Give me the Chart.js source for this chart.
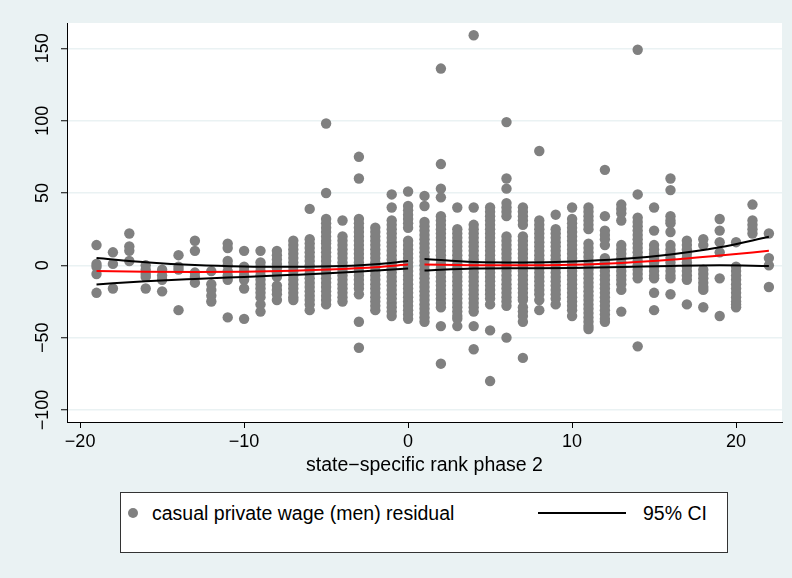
<!DOCTYPE html>
<html>
<head>
<meta charset="utf-8">
<script src="https://cdn.jsdelivr.net/npm/chart.js@4"></script>
<style>
  html, body { margin: 0; padding: 0; background: #EAF2F3; }
  #wrap { position: relative; width: 792px; height: 578px; overflow: hidden; }
  canvas { position: absolute; left: 0; top: 0; }
  #legend { position: absolute; left: 120px; top: 492px; width: 606px; height: 59px;
    border: 1px solid #333; background: #fff; font-family: "Liberation Sans", Arial, sans-serif;
    font-size: 19.5px; color: #000; }
  #legend .dot { position: absolute; left: 7px; top: 15px; width: 10px; height: 10px; border-radius: 50%; background: #808080; }
  #legend .t1 { position: absolute; left: 31px; top: 8px; line-height: 24px; white-space: nowrap; }
  #legend .ln { position: absolute; left: 417px; top: 19px; width: 88px; height: 0; border-top: 2px solid #000; }
  #legend .t2 { position: absolute; left: 522px; top: 8px; line-height: 24px; white-space: nowrap; }
</style>
</head>
<body>
<div id="wrap">
  <canvas id="c" width="792" height="578"></canvas>
  <div id="legend">
    <span class="dot"></span><span class="t1">casual private wage (men) residual</span>
    <span class="ln"></span><span class="t2">95% CI</span>
  </div>
</div>
<script>
// ---- data ----
const columnX = [-19,-18,-17,-16,-15,-14,-13,-12,-11,-10,-9,-8,-7,-6,-5,-4,-3,-2,-1,0,
                 1,2,3,4,5,6,7,8,9,10,11,12,13,14,15,16,17,18,19,20,21,22];
const columnY = [
  [14, 1, -1, -6, -19],
  [9, 1, -16],
  [22, 13, 10, 3],
  [0, -3, -6, -8, -16],
  [-3, -7, -10, -18],
  [7, -1, -3, -31],
  [17, 10, -5, -8, -12],
  [-4, -13, -17, -21, -25],
  [15, 12, 3, 0, -4, -7, -10, -36],
  [10, -1, -4, -7, -10, -16, -37],
  [10, 2, -1, -4, -7, -10, -13, -16, -19, -22, -27, -32],
  [10, 7, 4, 1, -2, -5, -8, -14, -17, -20, -24],
  [17, 14, 11, 8, 5, 2, -1, -4, -7, -10, -13, -16, -19, -22, -24],
  [39, 18, 15, 12, 9, 6, 3, 0, -3, -6, -9, -12, -15, -18, -21, -24, -27, -31],
  [98, 50, 32, 29, 26, 23, 20, 17, 15, 12, 9, 6, 3, 0, -3, -6, -9, -12, -15, -18, -21, -24, -27],
  [31, 20, 17, 14, 11, 8, 5, 2, -1, -4, -7, -10, -13, -16, -19, -22, -25],
  [75, 60, 32, 29, 26, 23, 20, 17, 14, 11, 8, 5, 2, -1, -4, -7, -10, -13, -16, -20, -39, -57],
  [26, 23, 20, 17, 14, 11, 8, 5, 2, -1, -4, -7, -10, -13, -16, -19, -22, -25, -28, -31],
  [49, 40, 31, 28, 25, 22, 19, 16, 13, 10, 7, 4, 1, -2, -5, -8, -11, -14, -17, -20, -23, -26, -29, -32, -35],
  [51, 41, 38, 35, 32, 29, 26, 17, 14, 11, 8, 5, 2, -1, -4, -7, -10, -13, -16, -19, -22, -25, -28, -31, -34, -37],
  [48, 41, 30, 27, 24, 21, 18, 15, 12, 9, 6, 3, 0, -3, -6, -9, -12, -15, -18, -21, -24, -27, -30, -33, -36, -39],
  [136, 70, 53, 47, 34, 31, 28, 25, 22, 19, 16, 13, 10, 7, 4, 1, -2, -5, -8, -11, -14, -17, -20, -23, -26, -29, -42, -68],
  [40, 25, 22, 19, 16, 13, 10, 7, 4, 1, -2, -5, -8, -11, -14, -17, -20, -23, -26, -29, -32, -35, -37, -42],
  [159, 40, 28, 25, 22, 19, 16, 13, 10, 7, 4, 1, -2, -5, -8, -11, -14, -17, -20, -23, -26, -29, -32, -42, -58],
  [40, 37, 34, 31, 28, 25, 22, 19, 16, 13, 10, 7, 4, 1, -2, -5, -8, -11, -14, -17, -20, -23, -27, -45, -80],
  [99, 60, 53, 43, 40, 37, 34, 20, 17, 14, 11, 8, 5, 2, -1, -4, -7, -10, -13, -16, -19, -22, -25, -28, -50],
  [40, 37, 34, 31, 28, 20, 17, 14, 11, 8, 5, 2, -1, -4, -7, -10, -13, -16, -19, -22, -24, -29, -32, -35, -39, -64],
  [79, 31, 28, 25, 22, 19, 16, 13, 10, 7, 4, 1, -2, -5, -8, -11, -14, -17, -20, -24, -31],
  [35, 25, 22, 19, 16, 13, 10, 7, 4, 1, -2, -5, -8, -11, -14, -17, -20, -23, -27],
  [40, 32, 29, 26, 23, 20, 17, 14, 11, 8, 5, 2, -1, -4, -7, -10, -13, -16, -19, -22, -25, -28, -31, -35],
  [40, 37, 34, 31, 28, 25, 15, 12, 9, 6, 3, 0, -3, -6, -9, -12, -15, -18, -21, -24, -27, -30, -33, -36, -39, -42, -44],
  [66, 34, 24, 21, 18, 14, 5, 2, -1, -4, -7, -10, -13, -16, -19, -22, -25, -28, -31, -34, -37, -39],
  [42, 39, 36, 31, 14, 11, 8, 5, 2, -1, -4, -7, -10, -13, -17, -32],
  [149, 49, 33, 30, 27, 24, 21, 18, 15, 12, 9, 6, 3, 0, -3, -6, -9, -56],
  [40, 24, 14, 11, 8, 5, 2, -1, -4, -7, -9, -19, -31],
  [60, 52, 34, 31, 29, 23, 14, 11, 8, 5, 2, -1, -4, -7, -9, -20],
  [17, 14, 11, 8, 5, 2, -1, -4, -7, -10, -27],
  [18, 14, -3, -6, -9, -12, -15, -17, -29],
  [32, 24, 16, 9, -9, -35],
  [16, -1, -4, -7, -10, -13, -16, -19, -22, -25, -27, -29],
  [42, 31, 28, 25, 22],
  [22, 5, 0, -15]
];

const fitLeftX  = [-19, -16, -13, -10, -7, -4, -2, 0];
const fitLeftY  = [-3.9, -4.4, -4.6, -4.4, -3.7, -2.5, -1.3, 0.5];
const ciLeftHi  = [5.1, 2.2, 0.2, -0.8, -1.0, -0.5, 0.7, 3.0];
const ciLeftLo  = [-13.2, -11.0, -9.4, -8.0, -6.6, -5.0, -3.6, -2.2];
const fitRightX = [1, 4, 7, 10, 13, 16, 19, 22];
const fitRightY = [0.5, 0.1, 0.0, 0.4, 1.6, 3.8, 6.8, 10.0];
const ciRightHi = [4.4, 2.3, 2.0, 2.6, 4.3, 7.5, 12.5, 19.7];
const ciRightLo = [-3.6, -2.2, -2.0, -1.8, -1.2, -0.4, 0.0, -0.5];

const xTicks = [-20, -10, 0, 10, 20];
const yTicks = [-100, -50, 0, 50, 100, 150];
const xTitle = 'state\u2212specific rank phase 2';

// ---- build ----
const scatterPts = [];
columnX.forEach((x, i) => columnY[i].forEach(y => scatterPts.push({x, y})));
const toPts = (xs, ys) => xs.map((x, i) => ({x, y: ys[i]}));
const minus = v => String(v).replace('-', '\u2212');
const FONT = '"Liberation Sans", Arial, sans-serif';

function lineDs(xs, ys, color) {
  return { type: 'line', data: toPts(xs, ys), borderColor: color, borderWidth: 2,
    pointRadius: 0, fill: false, tension: 0.4, cubicInterpolationMode: 'monotone', order: 1 };
}

const plotBg = {
  id: 'plotBg',
  beforeDraw(chart) {
    const {ctx, chartArea: a} = chart;
    ctx.save(); ctx.fillStyle = '#fff';
    ctx.fillRect(a.left, a.top, a.right - a.left, a.bottom - a.top);
    ctx.restore();
  }
};

new Chart(document.getElementById('c'), {
  type: 'scatter',
  data: {
    datasets: [
      lineDs(fitLeftX, ciLeftHi, '#000'),
      lineDs(fitLeftX, ciLeftLo, '#000'),
      lineDs(fitRightX, ciRightHi, '#000'),
      lineDs(fitRightX, ciRightLo, '#000'),
      lineDs(fitLeftX, fitLeftY, '#ff0000'),
      lineDs(fitRightX, fitRightY, '#ff0000'),
      { type: 'scatter', data: scatterPts, backgroundColor: '#808080', borderWidth: 0,
        pointRadius: 5.2, pointHoverRadius: 5.2, order: 10 }
    ]
  },
  options: {
    responsive: false, animation: false, devicePixelRatio: 1,
    layout: { padding: { left: 0, right: 10, top: 23, bottom: 101 } },
    plugins: { legend: { display: false }, tooltip: { enabled: false } },
    scales: {
      x: {
        type: 'linear', min: -20.8, max: 22.8,
        afterBuildTicks: s => { s.ticks = xTicks.map(v => ({value: v})); },
        afterFit: s => { s.height = 55; },
        ticks: { font: { family: FONT, size: 18 }, color: '#000', padding: 3,
          maxRotation: 0, minRotation: 0, callback: v => minus(v) },
        grid: { drawOnChartArea: false, drawTicks: true, tickLength: 6, tickColor: '#000', tickWidth: 1 },
        border: { display: true, color: '#000', width: 1 },
        title: { display: true, text: xTitle, color: '#000', font: { family: FONT, size: 19.5 },
          padding: { top: 0, bottom: 0 } }
      },
      y: {
        type: 'linear', min: -108.3, max: 167.5,
        afterBuildTicks: s => { s.ticks = yTicks.map(v => ({value: v})); },
        afterFit: s => { s.width = 67; },
        ticks: { font: { family: FONT, size: 18 }, color: '#000', padding: -2,
          minRotation: 90, maxRotation: 90, crossAlign: 'center', callback: v => minus(v) },
        grid: { color: '#EAF2F3', lineWidth: 1.5, drawTicks: true, tickLength: 6, tickColor: '#000', tickWidth: 1 },
        border: { display: true, color: '#000', width: 1 }
      }
    }
  },
  plugins: [plotBg]
});
</script>
</body>
</html>
